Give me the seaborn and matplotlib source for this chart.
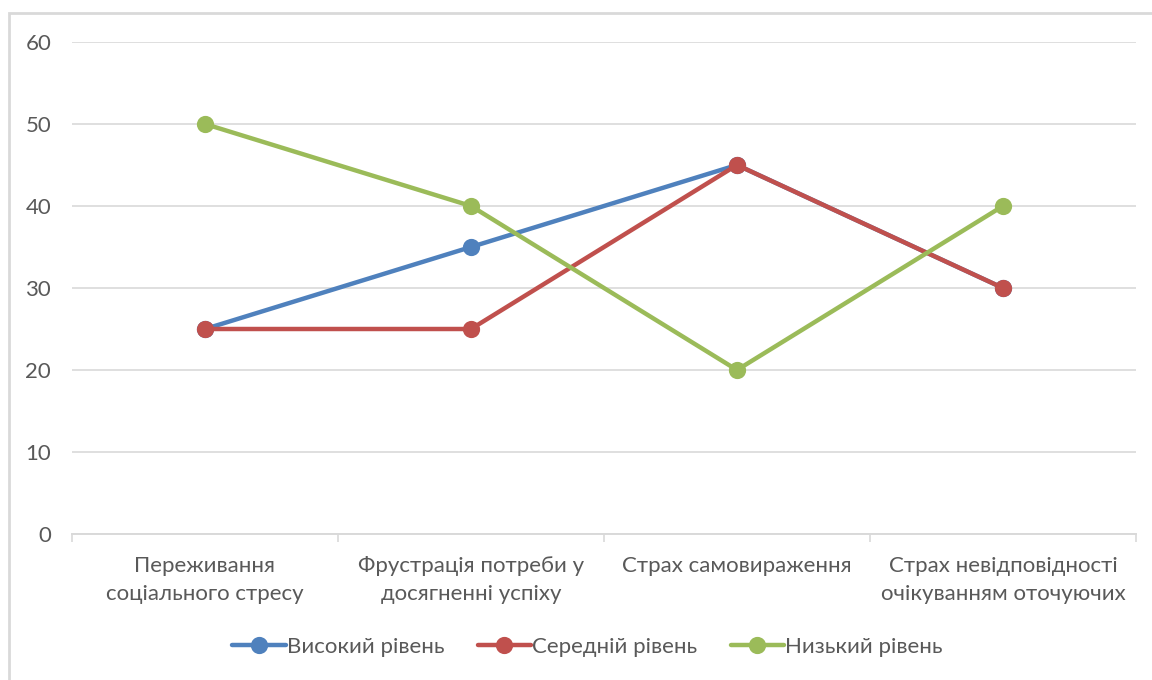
import matplotlib
matplotlib.use("Agg")
import matplotlib.pyplot as plt
from matplotlib.patches import Rectangle
from matplotlib.ticker import FixedLocator
import seaborn as sns
import pandas as pd

categories = [
    "Переживання\nсоціального стресу",
    "Фрустрація потреби у\nдосягненні успіху",
    "Страх самовираження",
    "Страх невідповідності\nочікуванням оточуючих",
]
series_names = ["Високий рівень", "Середній рівень", "Низький рівень"]
high_level = [25, 35, 45, 30]
medium_level = [25, 25, 45, 30]
low_level = [50, 40, 20, 40]
y_ticks = [0, 10, 20, 30, 40, 50, 60]
colors = ["#4F81BD", "#C0504D", "#9BBB59"]

rows = []
for name, vals in zip(series_names, [high_level, medium_level, low_level]):
    for cat, v in zip(categories, vals):
        rows.append({"Категорія": cat, "Значення": v, "Рівень": name})
df = pd.DataFrame(rows)

sns.set_theme(style="white")
plt.rcParams["font.family"] = ["Lato", "DejaVu Sans"]
text_color = "#595959"
grid_color = "#D9D9D9"
font_size = 16

fig = plt.figure(figsize=(11.52, 6.8), dpi=100)
fig.patch.set_facecolor("white")
# outer chart-area frame
fig.patches.append(Rectangle((9 / 1152, -0.1), 1.2, 1 - 13 / 680 + 0.1,
                             transform=fig.transFigure, fill=False,
                             edgecolor="#D9D9D9", linewidth=2.0, zorder=0))

ax = fig.add_axes([72 / 1152, 1 - 534 / 680, (1136 - 72) / 1152, (534 - 42) / 680])
sns.pointplot(data=df, x="Категорія", y="Значення", hue="Рівень",
              order=categories, hue_order=series_names, palette=colors,
              markers="o", linestyles="-", dodge=False, errorbar=None,
              markersize=10, linewidth=3.2, ax=ax)

ax.set_xlim(-0.5, len(categories) - 0.5)
ax.set_ylim(0, 60)
ax.set_yticks(y_ticks)
ax.yaxis.grid(True, color=grid_color, linewidth=1.2)
ax.set_axisbelow(True)
for side in ["top", "right", "left"]:
    ax.spines[side].set_visible(False)
ax.spines["bottom"].set_color(grid_color)
ax.spines["bottom"].set_linewidth(1.4)
ax.set_xlabel("")
ax.set_ylabel("")

ax.xaxis.set_minor_locator(FixedLocator([i - 0.5 for i in range(len(categories) + 1)]))
ax.tick_params(axis="x", which="major", length=0, pad=16, labelsize=font_size, labelcolor=text_color)
ax.tick_params(axis="x", which="minor", length=6, width=1.2, color=grid_color, bottom=True)
ax.tick_params(axis="y", length=0, pad=15, labelsize=font_size, labelcolor=text_color)
for lbl in ax.get_xticklabels():
    lbl.set_linespacing(1.5)

handles, labels = ax.get_legend_handles_labels()
ax.legend_.remove()
fig.legend(handles, labels, loc="center", bbox_to_anchor=(0.51, 1 - 647 / 680),
           ncol=3, frameon=False, fontsize=font_size, labelcolor=text_color,
           handlelength=2.4, handletextpad=0.05, columnspacing=1.5)

fig.savefig("out.png", dpi=100, facecolor="white")
